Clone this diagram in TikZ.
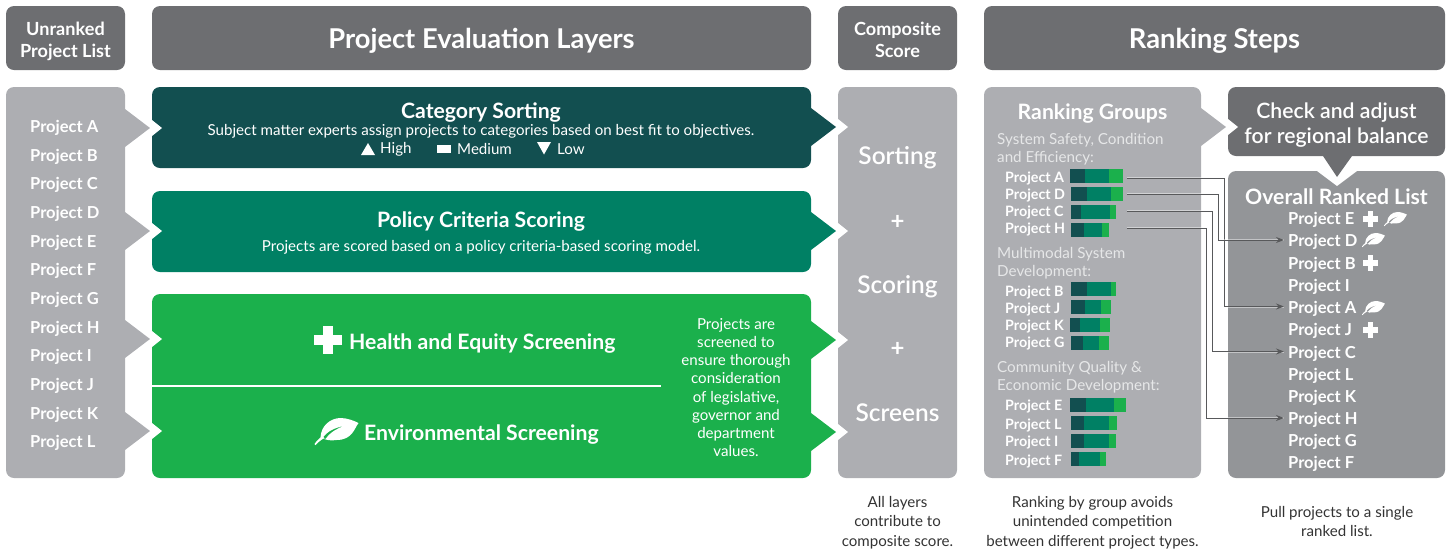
\documentclass[tikz,border=0pt]{standalone}
\usepackage{fontspec}
\setmainfont{Lato}
\newfontfamily\semifont{Lato Semibold}
\usetikzlibrary{arrows.meta}

\definecolor{headgray}{HTML}{6D6E71}
\definecolor{panelgray}{HTML}{ADAEB2}
\definecolor{listgray}{HTML}{939598}
\definecolor{layerdark}{HTML}{124F50}
\definecolor{layerteal}{HTML}{008064}
\definecolor{layergreen}{HTML}{1BB04C}
\definecolor{linkgray}{HTML}{58595B}
\definecolor{softwhite}{HTML}{E6E7E8}
\definecolor{notetext}{HTML}{333333}

\newcommand{\fsize}[2]{\fontsize{#1}{#2}\selectfont}
% одна полоска оценки: y, затем четыре границы по x
\newcommand{\rankbar}[5]{
    \fill [layerdark] ( #2, #1 ) rectangle ( #3, #1 + 14 );
    \fill [layerteal] ( #3, #1 ) rectangle ( #4, #1 + 14 );
    \fill [layergreen] ( #4, #1 ) rectangle ( #5, #1 + 14 );
}

\tikzset{
    box/.style={rounded corners=8pt, inner sep=0pt, text=white, align=center},
    head/.style={box, fill=headgray, text depth=0pt, text height=20pt, font=\bfseries\fsize{27.3}{30}},
    smallhead/.style={head, text height=38pt, font=\bfseries\fsize{18.1}{22}},
    listitem/.style={anchor=west, inner xsep=0pt, inner ysep=0pt, text height=13.5pt, text depth=0pt, text=white, font=\bfseries\fsize{16.5}{18}},
    rankitem/.style={listitem, inner xsep=4pt},
    groupitem/.style={listitem, text height=11.5pt, font=\bfseries\fsize{14.3}{16}},
    groupname/.style={anchor=west, inner sep=0pt, align=left, text=softwhite, font=\fsize{15.2}{18}},
    boxtitle/.style={inner sep=0pt, text depth=0pt, text height=15.5pt, text=white, font=\bfseries\fsize{21.2}{25}},
    boxtext/.style={inner sep=0pt, text=white, align=center, font=\fsize{15.1}{18.1}},
    bigword/.style={inner sep=0pt, text depth=0pt, text height=17pt, text=white, font=\semifont\fsize{24.4}{26}},
    plussign/.style={inner sep=0pt, text=white, font=\bfseries\fsize{24}{26}},
    note/.style={inner sep=0pt, text=notetext, align=center, font=\fsize{15.1}{19.5}},
    link/.style={linkgray, line width=0.9pt, -{Stealth[length=8pt, width=6pt]}, preaction={draw=white, opacity=0.45, line width=2pt, -}},
    plusmark/.pic={
        \fill [white] ( -5, -14 ) rectangle ( 5, 14 );
        \fill [white] ( -14, -5 ) rectangle ( 14, 5 );
    },
    leafmark/.pic={
        \fill [white, even odd rule] ( 6, 20 ) .. controls ( 6, 8 ) and ( 16, 0 ) .. ( 26, 0 )
            .. controls ( 33, 0 ) and ( 40, 3 ) .. ( 44, 5 )
            .. controls ( 40, 10 ) and ( 38, 22 ) .. ( 22, 22 )
            .. controls ( 16, 23 ) and ( 11, 22 ) .. ( 8, 20 ) -- cycle
            ( 8, 20 ) .. controls ( 13, 13 ) and ( 20, 10 ) .. ( 29, 8 )
            .. controls ( 20, 12 ) and ( 15, 15 ) .. ( 11, 21 ) -- cycle;
        \fill [white] ( 0, 26 ) .. controls ( 2, 23 ) and ( 5, 20 ) .. ( 8, 18 ) -- ( 10, 20 )
            .. controls ( 6, 22 ) and ( 3, 25 ) .. ( 1, 27 ) -- cycle;
    }
}

\begin{document}
\begin{tikzpicture}[x=1pt, y=-1pt]
    \useasboundingbox ( 0, 0 ) rectangle ( 1449, 550 );

    % шапки
    \node [smallhead, minimum width=119pt, minimum height=64pt] (headList) at ( 65.5, 38 ) {Unranked\\Project List};
    \node [head, minimum width=659pt, minimum height=64pt] (headLayers) at ( 481.5, 38 ) {Project Evaluation Layers};
    \node [smallhead, minimum width=119pt, minimum height=64pt] (headScore) at ( 897.5, 38 ) {Composite\\Score};
    \node [head, minimum width=461pt, minimum height=64pt] (headSteps) at ( 1214.5, 38 ) {Ranking Steps};

    % панели
    \node [box, fill=panelgray, minimum width=119pt, minimum height=391pt] (panelList) at ( 65.5, 282.5 ) {};
    \node [box, fill=layerdark, minimum width=659pt, minimum height=81pt] (layerSort) at ( 481.5, 127.5 ) {};
    \node [box, fill=layerteal, minimum width=659pt, minimum height=81pt] (layerScore) at ( 481.5, 231.5 ) {};
    \node [box, fill=layergreen, minimum width=659pt, minimum height=184pt] (layerScreen) at ( 481.5, 386 ) {};
    \node [box, fill=panelgray, minimum width=119pt, minimum height=391pt] (panelScore) at ( 897.5, 282.5 ) {};
    \node [box, fill=panelgray, minimum width=217pt, minimum height=391pt] (panelGroups) at ( 1092.5, 282.5 ) {};
    \node [box, fill=listgray, minimum width=217pt, minimum height=307pt] (panelRanked) at ( 1336.5, 324.5 ) {};
    \node [box, fill=headgray, minimum width=217pt, minimum height=69pt, text depth=0pt, text height=44pt, font=\semifont\fsize{21.2}{25}] (boxCheck) at ( 1336.5, 121.5 ) {Check and adjust\\for regional balance};

    % вырезы
    \fill [white] ( 152, 120 ) -- ( 162, 128 ) -- ( 152, 136 ) -- cycle;
    \fill [white] ( 152, 223 ) -- ( 162, 231 ) -- ( 152, 239 ) -- cycle;
    \fill [white] ( 152, 331 ) -- ( 162, 339 ) -- ( 152, 347 ) -- cycle;
    \fill [white] ( 152, 423 ) -- ( 162, 431 ) -- ( 152, 439 ) -- cycle;
    \fill [white] ( 838, 119 ) -- ( 848, 127 ) -- ( 838, 135 ) -- cycle;
    \fill [white] ( 838, 223 ) -- ( 848, 231 ) -- ( 838, 239 ) -- cycle;
    \fill [white] ( 838, 332 ) -- ( 848, 340 ) -- ( 838, 348 ) -- cycle;
    \fill [white] ( 838, 424 ) -- ( 848, 432 ) -- ( 838, 440 ) -- cycle;
    \fill [white] ( 1228, 119 ) -- ( 1238, 127 ) -- ( 1228, 135 ) -- cycle;
    \fill [white] ( 1317, 171 ) -- ( 1337, 186 ) -- ( 1357, 171 ) -- cycle;

    % стрелки
    \fill [panelgray] ( 125, 109 ) -- ( 150, 128 ) -- ( 125, 147 ) -- cycle;
    \fill [panelgray] ( 125, 212 ) -- ( 150, 231 ) -- ( 125, 250 ) -- cycle;
    \fill [panelgray] ( 125, 320 ) -- ( 150, 339 ) -- ( 125, 358 ) -- cycle;
    \fill [panelgray] ( 125, 412 ) -- ( 150, 431 ) -- ( 125, 450 ) -- cycle;
    \fill [layerdark] ( 811, 108 ) -- ( 836, 127 ) -- ( 811, 146 ) -- cycle;
    \fill [layerteal] ( 811, 212 ) -- ( 836, 231 ) -- ( 811, 250 ) -- cycle;
    \fill [layergreen] ( 811, 321 ) -- ( 836, 340 ) -- ( 811, 359 ) -- cycle;
    \fill [layergreen] ( 811, 413 ) -- ( 836, 432 ) -- ( 811, 451 ) -- cycle;
    \fill [panelgray] ( 1201, 108 ) -- ( 1226, 127 ) -- ( 1201, 146 ) -- cycle;
    \fill [headgray] ( 1323, 156 ) -- ( 1337, 177 ) -- ( 1352, 156 ) -- cycle;

    % исходный список
    \node [listitem] (listA) at ( 30, 126 ) {Project A};
    \node [listitem] (listB) at ( 30, 155 ) {Project B};
    \node [listitem] (listC) at ( 30, 183 ) {Project C};
    \node [listitem] (listD) at ( 30, 212 ) {Project D};
    \node [listitem] (listE) at ( 30, 241 ) {Project E};
    \node [listitem] (listF) at ( 30, 269 ) {Project F};
    \node [listitem] (listG) at ( 30, 298 ) {Project G};
    \node [listitem] (listH) at ( 30, 327 ) {Project H};
    \node [listitem] (listI) at ( 30, 355 ) {Project I};
    \node [listitem] (listJ) at ( 30, 384 ) {Project J};
    \node [listitem] (listK) at ( 30, 413 ) {Project K};
    \node [listitem] (listL) at ( 30, 441 ) {Project L};

    % слои
    \node [boxtitle] (sortTitle) at ( 481, 110.5 ) {Category Sorting};
    \node [boxtext] (sortText) at ( 481, 131.5 ) {Subject matter experts assign projects to categories based on best fit to objectives.};
    \fill [white] ( 361, 155 ) -- ( 368, 143 ) -- ( 375, 155 ) -- cycle;
    \node [boxtext, anchor=west] (sortHigh) at ( 380, 149 ) {High};
    \fill [white] ( 437, 145 ) rectangle ( 451, 153 );
    \node [boxtext, anchor=west] (sortMedium) at ( 457, 149 ) {Medium};
    \fill [white] ( 537, 142 ) -- ( 551, 142 ) -- ( 544, 154.5 ) -- cycle;
    \node [boxtext, anchor=west] (sortLow) at ( 557, 149 ) {Low};
    \node [boxtitle] (scoreTitle) at ( 481, 220 ) {Policy Criteria Scoring};
    \node [boxtext] (scoreText) at ( 481, 247.5 ) {Projects are scored based on a policy criteria-based scoring model.};
    \pic at ( 328, 340 ) {plusmark};
    \node [boxtitle, anchor=west] (healthTitle) at ( 349, 342 ) {Health and Equity Screening};
    \coordinate (ruleEnd) at ( 661, 386 );
    \draw [white, line width=1.2pt] (layerScreen.west) -- (ruleEnd);
    \pic at ( 314.5, 418 ) {leafmark};
    \node [boxtitle, anchor=west] (envTitle) at ( 364, 433 ) {Environmental Screening};
    \node [boxtext] (screenText) at ( 736, 387.5 ) {Projects are\\screened to\\ensure thorough\\consideration\\of legislative,\\governor and\\department\\values.};

    % итоговая оценка
    \node [bigword] (wordSort) at ( 897.5, 156 ) {Sorting};
    \node [plussign] (plusOne) at ( 897.5, 222.5 ) {+};
    \node [bigword] (wordScore) at ( 897.5, 285 ) {Scoring};
    \node [plussign] (plusTwo) at ( 897.5, 349.5 ) {+};
    \node [bigword] (wordScreen) at ( 897.5, 413 ) {Screens};

    % группы
    \node [boxtitle] (groupsTitle) at ( 1092.5, 112 ) {Ranking Groups};
    \node [groupname] (groupOne) at ( 997, 149 ) {System Safety, Condition\\and Efficiency:};
    \node [groupname] (groupTwo) at ( 997, 263 ) {Multimodal System\\Development:};
    \node [groupname] (groupThree) at ( 997, 377 ) {Community Quality \&\\Economic Development:};

    \node [groupitem] (rowA) at ( 1005, 177 ) {Project A};
    \node [groupitem] (rowD) at ( 1005, 194 ) {Project D};
    \node [groupitem] (rowC) at ( 1005, 211 ) {Project C};
    \node [groupitem] (rowH) at ( 1005, 228 ) {Project H};
    \node [groupitem] (rowB) at ( 1005, 291 ) {Project B};
    \node [groupitem] (rowJ) at ( 1005, 308 ) {Project J};
    \node [groupitem] (rowK) at ( 1005, 325 ) {Project K};
    \node [groupitem] (rowG) at ( 1005, 342 ) {Project G};
    \node [groupitem] (rowE) at ( 1005, 405 ) {Project E};
    \node [groupitem] (rowL) at ( 1005, 424 ) {Project L};
    \node [groupitem] (rowI) at ( 1005, 441 ) {Project I};
    \node [groupitem] (rowF) at ( 1005, 460 ) {Project F};

    \rankbar{169}{1070}{1085}{1109}{1123}
    \rankbar{187}{1071}{1087}{1111}{1123}
    \rankbar{205}{1071}{1081}{1110}{1116}
    \rankbar{223}{1071}{1084}{1102}{1109}
    \rankbar{282}{1071}{1087}{1111}{1116}
    \rankbar{300}{1071}{1085}{1101}{1111}
    \rankbar{318}{1070}{1080}{1100}{1110}
    \rankbar{336}{1071}{1083}{1099}{1109}
    \rankbar{398}{1070}{1086}{1114}{1126}
    \rankbar{416}{1071}{1084}{1109}{1117}
    \rankbar{434}{1071}{1084}{1109}{1116}
    \rankbar{452}{1071}{1079}{1100}{1106}

    % итоговый список
    \node [boxtitle] (rankedTitle) at ( 1336.5, 197 ) {Overall Ranked List};
    \node [rankitem] (rankE) at ( 1284, 218 ) {Project E};
    \node [rankitem] (rankD) at ( 1284, 240 ) {Project D};
    \node [rankitem] (rankB) at ( 1284, 263 ) {Project B};
    \node [rankitem] (rankI) at ( 1284, 285 ) {Project I};
    \node [rankitem] (rankA) at ( 1284, 306.5 ) {Project A};
    \node [rankitem] (rankJ) at ( 1284, 329 ) {Project J};
    \node [rankitem] (rankC) at ( 1284, 351.5 ) {Project C};
    \node [rankitem] (rankL) at ( 1284, 374 ) {Project L};
    \node [rankitem] (rankK) at ( 1284, 396 ) {Project K};
    \node [rankitem] (rankH) at ( 1284, 418 ) {Project H};
    \node [rankitem] (rankG) at ( 1284, 440 ) {Project G};
    \node [rankitem] (rankF) at ( 1284, 462 ) {Project F};

    % значки
    \pic [scale=0.55] at ( 1370.5, 219 ) {plusmark};
    \pic [scale=0.52] at ( 1384, 212 ) {leafmark};
    \pic [scale=0.52] at ( 1362, 233 ) {leafmark};
    \pic [scale=0.55] at ( 1370.5, 263 ) {plusmark};
    \pic [scale=0.52] at ( 1362, 301 ) {leafmark};
    \pic [scale=0.55] at ( 1370.5, 330 ) {plusmark};

    % линии
    \coordinate (barA) at ( 1127, 178 );
    \coordinate (barD) at ( 1127, 194 );
    \coordinate (barC) at ( 1127, 211 );
    \coordinate (barH) at ( 1127, 228 );
    \coordinate (busA) at ( 1224, 178 );
    \coordinate (busD) at ( 1218, 194 );
    \coordinate (busC) at ( 1212, 211 );
    \coordinate (busH) at ( 1206, 228 );
    \draw [link] (barA) -- (busA) |- (rankA.west);
    \draw [link] (barD) -- (busD) |- (rankD.west);
    \draw [link] (barC) -- (busC) |- (rankC.west);
    \draw [link] (barH) -- (busH) |- (rankH.west);

    % подписи
    \node [note] (noteScore) at ( 897.5, 522.5 ) {All layers\\contribute to\\composite score.};
    \node [note] (noteGroups) at ( 1092.5, 522.5 ) {Ranking by group avoids\\unintended competition\\between different project types.};
    \node [note] (noteRanked) at ( 1337, 521.5 ) {Pull projects to a single\\ranked list.};
\end{tikzpicture}
\end{document}
